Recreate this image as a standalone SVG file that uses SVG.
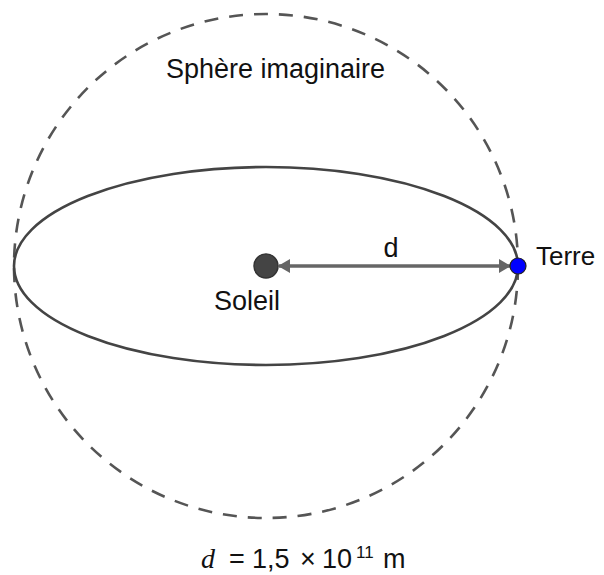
<svg xmlns="http://www.w3.org/2000/svg" width="604" height="575" viewBox="0 0 604 575">
<style>
.t{font-family:"Liberation Sans",Arial,sans-serif;font-size:27px;fill:#111}
.f{font-family:"Liberation Sans",Arial,sans-serif;font-size:27px;fill:#111}
.sphere{fill:none;stroke:#555;stroke-width:2.6;stroke-dasharray:14 11}
.orbit{fill:none;stroke:#444;stroke-width:2.6}
</style>
<defs>
<marker id="ah" viewBox="0 0 12 14" refX="11" refY="7" markerWidth="12" markerHeight="14" markerUnits="userSpaceOnUse" orient="auto-start-reverse">
<path d="M0,0 L12,7 L0,14 Z" fill="#666"/>
</marker>
</defs>
<g id="sphere">
<circle class="sphere" cx="266" cy="266" r="252"/>
<text class="t" x="275.5" y="78" text-anchor="middle">Sphère imaginaire</text>
</g>
<g id="orbit">
<ellipse class="orbit" cx="266" cy="266" rx="252" ry="99"/>
</g>
<g id="connectors">
<line x1="279" y1="266" x2="510" y2="266" stroke="#666" stroke-width="3.5" marker-start="url(#ah)" marker-end="url(#ah)"/>
<text class="t" x="391" y="257" text-anchor="middle">d</text>
</g>
<g id="soleil">
<circle cx="266" cy="266" r="12" fill="#444" stroke="#333" stroke-width="1.5"/>
<text class="t" x="247" y="310" text-anchor="middle">Soleil</text>
</g>
<g id="terre">
<circle cx="518" cy="266" r="8" fill="#0000ff" stroke="#222" stroke-width="1.2"/>
<text class="t" x="536" y="265" style="font-size:26px">Terre</text>
</g>
<g id="formula">
<text x="201" y="568" style="font-family:'Liberation Serif',serif;font-style:italic;font-size:28px;fill:#111">d</text>
<text class="f" x="229" y="568">=</text>
<text class="f" x="252" y="568">1,5</text>
<text class="f" x="300" y="568">×</text>
<text class="f" x="322" y="568">10</text>
<text class="f" x="356" y="558" style="font-size:17px">11</text>
<text class="f" x="383" y="568">m</text>
</g>
</svg>
